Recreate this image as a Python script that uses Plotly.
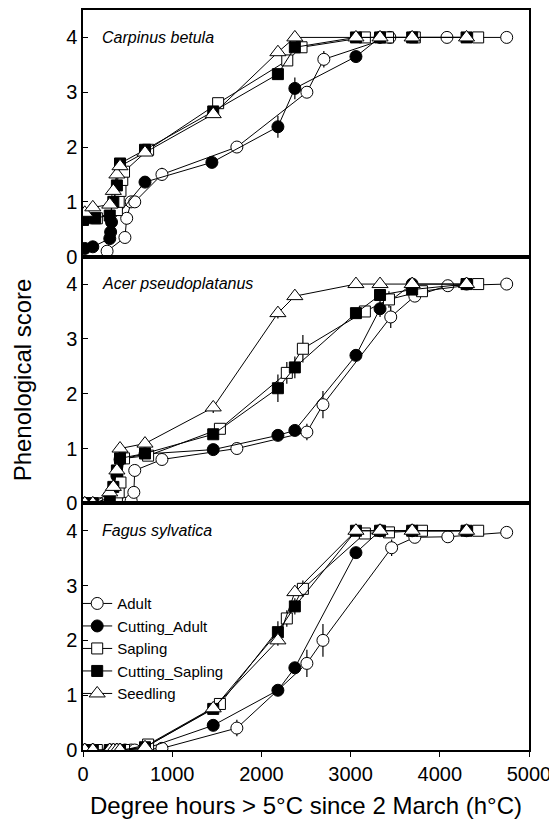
import plotly.graph_objects as go
from plotly.subplots import make_subplots

# ---- data: Carpinus betula (top panel) ----
carp_adult_x = [270, 470, 490, 540, 580, 885, 1725, 2510, 2700, 3440, 4080, 4750]
carp_adult_y = [0.1, 0.35, 0.7, 1.0, 1.0, 1.5, 2.0, 3.0, 3.6, 4.0, 4.0, 4.0]
carp_adult_e = [0, 0, 0, 0, 0, 0.12, 0, 0.1, 0.15, 0, 0, 0]
carp_cutad_x = [20, 110, 300, 310, 320, 695, 1445, 2185, 2375, 3060, 3330]
carp_cutad_y = [0.15, 0.18, 0.33, 0.45, 0.63, 1.36, 1.72, 2.37, 3.07, 3.65, 4.0]
carp_cutad_e = [0, 0, 0, 0, 0, 0, 0, 0.2, 0.2, 0, 0]
carp_sap_x = [155, 380, 400, 420, 440, 460, 730, 1515, 2290, 2450, 3160, 3420, 3720, 4430]
carp_sap_y = [0.7, 0.85, 1.0, 1.2, 1.4, 1.55, 1.95, 2.8, 3.58, 3.82, 4.0, 4.0, 4.0, 4.0]
carp_sap_e = [0, 0, 0, 0, 0, 0, 0, 0, 0.1, 0, 0, 0, 0, 0]
carp_cutsap_x = [0, 135, 300, 340, 380, 415, 695, 1460, 2185, 2375, 3060, 3330, 3690, 4300]
carp_cutsap_y = [0.67, 0.7, 0.75, 1.0, 1.3, 1.7, 1.95, 2.65, 3.33, 3.82, 4.0, 4.0, 4.0, 4.0]
carp_cutsap_e = [0, 0, 0, 0, 0, 0, 0, 0, 0.1, 0, 0, 0, 0, 0]
carp_seed_x = [20, 110, 300, 340, 380, 415, 695, 1460, 2185, 2375, 3060, 3330, 3690, 4300]
carp_seed_y = [0.8, 0.9, 0.95, 1.2, 1.5, 1.65, 1.9, 2.6, 3.73, 4.0, 4.0, 4.0, 4.0, 4.0]
carp_seed_e = [0, 0, 0, 0, 0, 0, 0, 0, 0, 0, 0, 0, 0, 0]

# ---- data: Acer pseudoplatanus (middle panel) ----
acer_adult_x = [470, 540, 570, 580, 885, 1725, 2510, 2690, 3450, 3720, 4090, 4750]
acer_adult_y = [0, 0.05, 0.2, 0.6, 0.8, 1.0, 1.3, 1.8, 3.4, 3.78, 3.97, 4.0]
acer_adult_e = [0, 0, 0, 0, 0.1, 0, 0.15, 0.25, 0.2, 0.1, 0, 0]
acer_cutad_x = [20, 110, 300, 340, 380, 415, 695, 1460, 2185, 2375, 3060, 3330, 3690, 4300]
acer_cutad_y = [0, 0, 0, 0.05, 0.5, 0.8, 0.9, 0.98, 1.24, 1.33, 2.7, 3.55, 4.0, 4.0]
acer_cutad_e = [0, 0, 0, 0, 0, 0, 0, 0, 0.1, 0.1, 0.1, 0.15, 0, 0]
acer_sap_x = [155, 380, 400, 420, 460, 730, 1535, 2285, 2465, 3160, 3430, 3800, 4430]
acer_sap_y = [0, 0.1, 0.2, 0.38, 0.82, 0.87, 1.36, 2.38, 2.82, 3.5, 3.72, 3.87, 4.0]
acer_sap_e = [0, 0, 0, 0, 0, 0, 0, 0.2, 0.25, 0, 0.15, 0, 0]
acer_cutsap_x = [20, 110, 300, 340, 380, 415, 695, 1460, 2185, 2375, 3060, 3330, 3690, 4300]
acer_cutsap_y = [0, 0, 0.1, 0.3, 0.6, 0.82, 0.91, 1.26, 2.1, 2.48, 3.47, 3.8, 3.9, 4.0]
acer_cutsap_e = [0, 0, 0, 0, 0, 0, 0, 0, 0.25, 0.2, 0, 0, 0, 0]
acer_seed_x = [20, 110, 300, 340, 380, 415, 695, 1460, 2185, 2375, 3060, 3330, 3690, 4300]
acer_seed_y = [0, 0, 0.2, 0.3, 0.6, 1.0, 1.09, 1.75, 3.47, 3.78, 4.0, 4.0, 4.0, 4.0]
acer_seed_e = [0, 0, 0, 0, 0, 0, 0, 0.1, 0.1, 0, 0, 0, 0, 0]

# ---- data: Fagus sylvatica (bottom panel) ----
fagus_adult_x = [470, 540, 580, 885, 1725, 2510, 2690, 3460, 3720, 4090, 4750]
fagus_adult_y = [0, 0, 0, 0.03, 0.4, 1.58, 2.0, 3.69, 3.88, 3.89, 3.97]
fagus_adult_e = [0, 0, 0, 0, 0.15, 0.25, 0.3, 0.15, 0, 0, 0]
fagus_cutad_x = [20, 110, 300, 340, 380, 415, 695, 1460, 2185, 2375, 3060, 3330, 3690, 4300]
fagus_cutad_y = [0, 0, 0, 0, 0, 0, 0.02, 0.45, 1.09, 1.5, 3.6, 4.0, 4.0, 4.0]
fagus_cutad_e = [0, 0, 0, 0, 0, 0, 0, 0, 0, 0.1, 0, 0, 0, 0]
fagus_sap_x = [155, 380, 420, 460, 730, 1535, 2285, 2465, 3160, 3430, 3800, 4430]
fagus_sap_y = [0, 0, 0, 0, 0.1, 0.84, 2.4, 2.94, 3.95, 3.97, 4.0, 4.0]
fagus_sap_e = [0, 0, 0, 0, 0, 0, 0.15, 0.15, 0, 0, 0, 0]
fagus_cutsap_x = [20, 110, 300, 340, 380, 415, 695, 1460, 2185, 2375, 3060, 3330, 3690, 4300]
fagus_cutsap_y = [0, 0, 0, 0, 0, 0, 0.05, 0.75, 2.15, 2.62, 4.0, 4.0, 4.0, 4.0]
fagus_cutsap_e = [0, 0, 0, 0, 0, 0, 0, 0, 0.2, 0.15, 0, 0, 0, 0]
fagus_seed_x = [20, 110, 300, 340, 380, 415, 695, 1460, 2185, 2375, 3060, 3330, 3690, 4300]
fagus_seed_y = [0, 0, 0, 0, 0, 0, 0.05, 0.76, 2.0, 2.88, 4.0, 4.0, 4.0, 4.0]
fagus_seed_e = [0, 0, 0, 0, 0, 0, 0, 0, 0.1, 0, 0, 0, 0, 0]

species = ['Carpinus betula', 'Acer pseudoplatanus', 'Fagus sylvatica']
groups = ['Adult', 'Cutting_Adult', 'Sapling', 'Cutting_Sapling', 'Seedling']

panels = [
    [(carp_adult_x, carp_adult_y, carp_adult_e), (carp_cutad_x, carp_cutad_y, carp_cutad_e),
     (carp_sap_x, carp_sap_y, carp_sap_e), (carp_cutsap_x, carp_cutsap_y, carp_cutsap_e),
     (carp_seed_x, carp_seed_y, carp_seed_e)],
    [(acer_adult_x, acer_adult_y, acer_adult_e), (acer_cutad_x, acer_cutad_y, acer_cutad_e),
     (acer_sap_x, acer_sap_y, acer_sap_e), (acer_cutsap_x, acer_cutsap_y, acer_cutsap_e),
     (acer_seed_x, acer_seed_y, acer_seed_e)],
    [(fagus_adult_x, fagus_adult_y, fagus_adult_e), (fagus_cutad_x, fagus_cutad_y, fagus_cutad_e),
     (fagus_sap_x, fagus_sap_y, fagus_sap_e), (fagus_cutsap_x, fagus_cutsap_y, fagus_cutsap_e),
     (fagus_seed_x, fagus_seed_y, fagus_seed_e)],
]

# marker style per group
symbols = {'Adult': 'circle', 'Cutting_Adult': 'circle', 'Sapling': 'square',
           'Cutting_Sapling': 'square', 'Seedling': 'triangle-up'}
fills = {'Adult': 'white', 'Cutting_Adult': 'black', 'Sapling': 'white',
         'Cutting_Sapling': 'black', 'Seedling': 'white'}
sizes = {'Adult': 12, 'Cutting_Adult': 12, 'Sapling': 11, 'Cutting_Sapling': 11, 'Seedling': 14}

fig = make_subplots(rows=3, cols=1, shared_xaxes=True, vertical_spacing=0)

for row, series in enumerate(panels, start=1):
    for g, (xs, ys, es) in zip(groups, series):
        fig.add_trace(go.Scatter(
            x=xs, y=ys, name=g, mode='lines+markers',
            line=dict(color='black', width=1),
            marker=dict(symbol=symbols[g], color=fills[g], size=sizes[g],
                        line=dict(color='black', width=1)),
            error_y=dict(type='data', array=es, visible=True, color='black',
                         thickness=1.2, width=0),
            showlegend=(row == 3), legendgroup=g,
        ), row=row, col=1)

    # species label inside the panel
    fig.add_annotation(text='<i>' + species[row - 1] + '</i>',
                       xref='x domain' if row == 1 else 'x%d domain' % row,
                       yref='y domain' if row == 1 else 'y%d domain' % row,
                       x=0.038, y=0.89, xanchor='left', yanchor='middle',
                       showarrow=False, font=dict(size=16, color='black'))

for row in range(1, 4):
    fig.update_yaxes(range=[0, 4.5], tickvals=[0, 1, 2, 3, 4], ticks='inside', ticklen=5,
                     tickcolor='black', showline=True, linecolor='black', linewidth=1.5,
                     mirror=True, showgrid=False, zeroline=False, automargin=False,
                     tickfont=dict(size=20, color='black'), row=row, col=1)
    fig.update_xaxes(range=[0, 5000], showline=True, linecolor='black', linewidth=1.5,
                     mirror=True, showgrid=False, zeroline=False, automargin=False,
                     row=row, col=1)

fig.update_xaxes(ticks='outside', ticklen=5, tickcolor='black', dtick=1000,
                 tickfont=dict(size=20, color='black'),
                 title=dict(text='Degree hours > 5°C since 2 March (h°C)',
                            font=dict(size=24, color='black'), standoff=13),
                 row=3, col=1)

fig.add_annotation(text='Phenological score', xref='paper', yref='paper',
                   x=-0.136, y=0.5, xanchor='center', yanchor='middle', textangle=-90,
                   showarrow=False, font=dict(size=24, color='black'), borderpad=0)

# page body has an 8 px margin, so the figure is sized/offset to compensate
fig.update_layout(
    width=549, height=819,
    margin=dict(l=75, r=28, t=2, b=77),
    plot_bgcolor='white', paper_bgcolor='white',
    font=dict(family='Arial, Liberation Sans, sans-serif', color='black'),
    legend=dict(x=-0.013, y=0.220, xanchor='left', yanchor='top',
                bgcolor='rgba(0,0,0,0)', font=dict(size=15), tracegroupgap=0,
                itemsizing='trace'),
)

fig.write_html('out.html')
